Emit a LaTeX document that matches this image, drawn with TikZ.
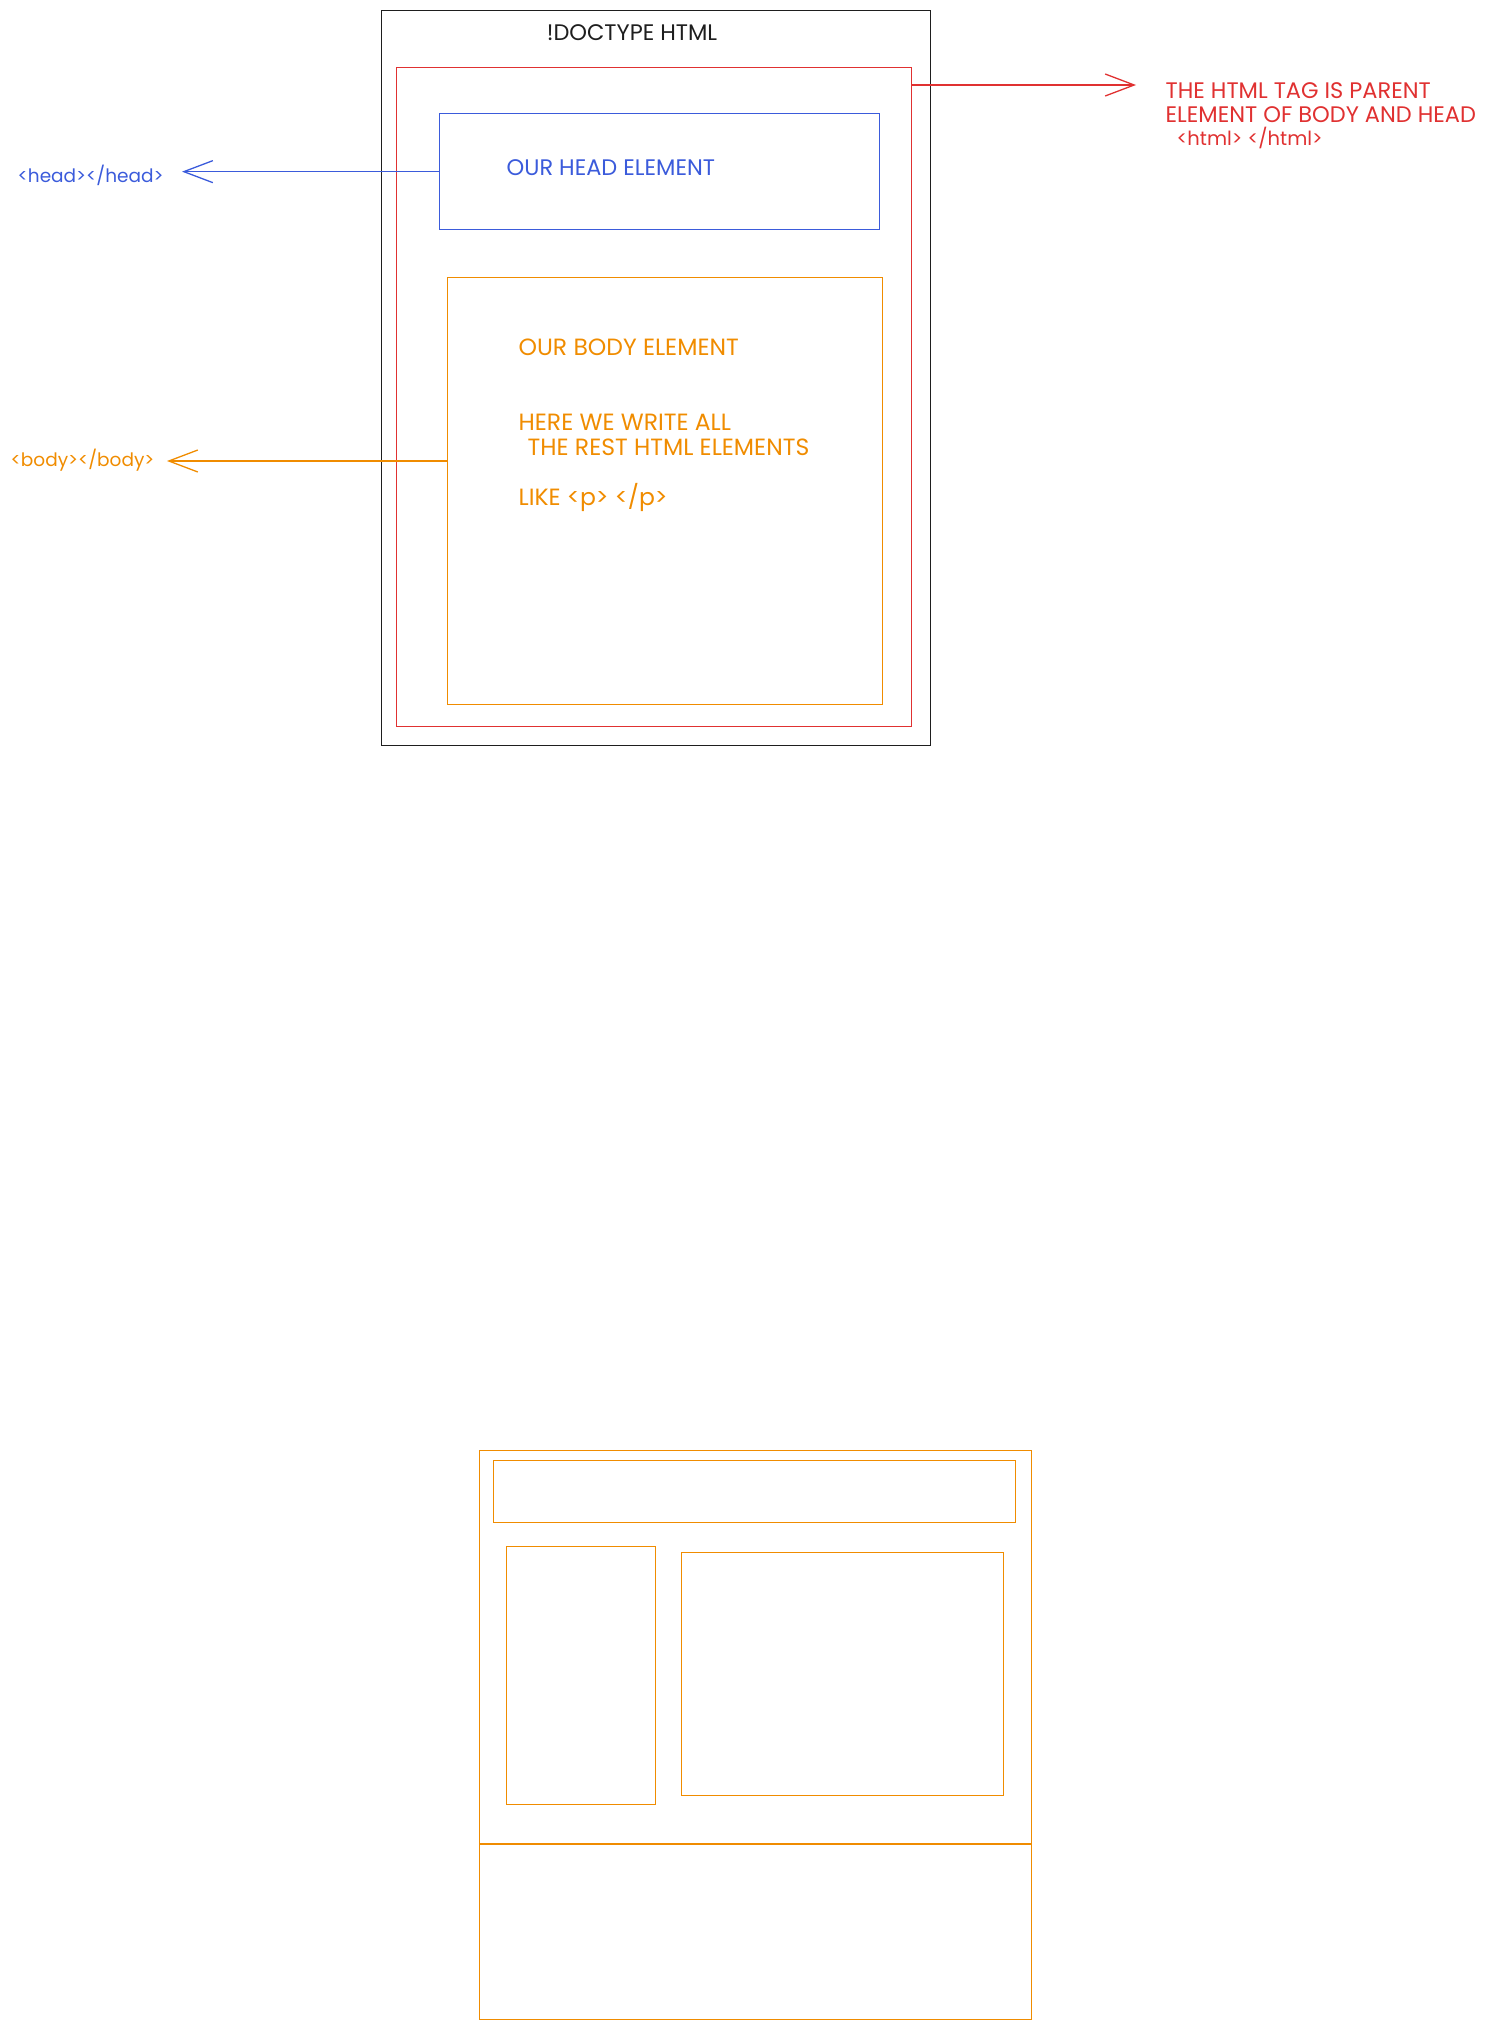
\documentclass[tikz,border=0pt]{standalone}
\usepackage{fontspec}
\setmainfont{Poppins}
\usepackage{tikz}
\usetikzlibrary{positioning,arrows.meta}
\definecolor{sketchred}{HTML}{E03131}
\definecolor{sketchblue}{HTML}{3B5BDB}
\definecolor{sketchorange}{HTML}{F08C00}
\definecolor{sketchblack}{HTML}{1E1E1E}

\begin{document}
\begin{tikzpicture}[x=1pt, y=-1pt, line width=1.3pt,
        font=\fontsize{22.5}{26}\selectfont,
        box/.style={draw, inner sep=0pt, anchor=north west},
        tag/.style={inner sep=0pt, anchor=west, align=left},
        small/.style={font=\fontsize{18.5}{22}\selectfont},
        openarrow/.style={-{Straight Barb[length=29pt,width=22pt]}}]
        \useasboundingbox (0,0) rectangle (1489,2026);
        % html skeleton
        \node[box, sketchblack, minimum width=549pt, minimum height=735pt] (doc) at (381,10) {};
        \node[sketchblack] (doctype) at (632,33) {!DOCTYPE HTML};
        \node[box, sketchred, minimum width=515pt, minimum height=659pt] (html) at (396,67) {};
        \node[box, sketchblue, minimum width=440pt, minimum height=116pt] (head) at (439,113) {};
        \node[tag, sketchblue] (headtext) at (506,168) {OUR HEAD ELEMENT};
        \node[box, sketchorange, minimum width=435pt, minimum height=427pt] (body) at (447,277) {};
        \node[tag, sketchorange, anchor=north west, font=\fontsize{23.5}{25}\selectfont] (bodytext) at (518,338)
          {OUR BODY ELEMENT\\[50pt] HERE WE WRITE ALL\\ \hspace*{9pt}THE REST HTML ELEMENTS\\[25pt] LIKE <p> </p>};
        % labels outside
        \node[tag, sketchred, anchor=north west, font=\fontsize{22.5}{23.5}\selectfont] (htmlnote) at (1165,82)
          {THE HTML TAG IS PARENT\\ ELEMENT OF BODY AND HEAD\\ \hspace*{11pt}{\fontsize{19.5}{23.5}\selectfont <html> </html>}};
        \node[tag, small, sketchblue] (headtag) at (17,175) {<head></head>};
        \node[tag, small, sketchorange] (bodytag) at (10,460) {<body></body>};
        \coordinate (htmltip) at (1136,85);
        \coordinate (headtip) at (182,171);
        \coordinate (bodytip) at (167,461);
        \draw[openarrow, sketchred] (html.east |- htmltip) -- (htmltip);
        \draw[openarrow, sketchblue] (head.west) -- (head.west -| headtip);
        \draw[openarrow, sketchorange] (body.west |- bodytip) -- (bodytip);
        % page layout sketch
        \node[box, sketchorange, minimum width=552pt, minimum height=569pt] (page) at (479,1450) {};
        \node[box, sketchorange, minimum width=522pt, minimum height=62pt] (header) at (493,1460) {};
        \node[box, sketchorange, minimum width=149pt, minimum height=258pt] (sidebar) at (506,1546) {};
        \node[box, sketchorange, minimum width=322pt, minimum height=243pt] (main) at (681,1552) {};
        \coordinate (footer) at (0,1844);
        \draw[sketchorange] (page.west |- footer) -- (page.east |- footer);
\end{tikzpicture}
\end{document}
